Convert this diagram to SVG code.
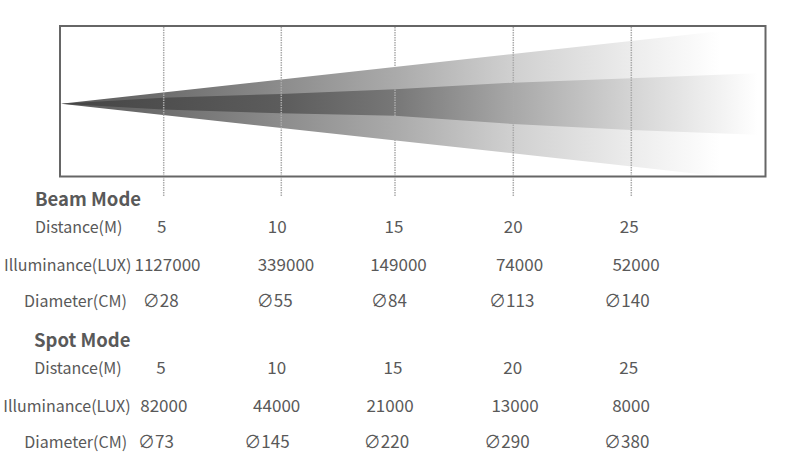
<svg xmlns="http://www.w3.org/2000/svg" width="800" height="476" viewBox="0 0 800 476">
<defs>
<linearGradient id="gOuter" gradientUnits="userSpaceOnUse" x1="61" y1="0" x2="765" y2="0">
<stop offset="0" stop-color="#5a5a5a"/>
<stop offset="0.145" stop-color="#6e6e6e"/>
<stop offset="0.3125" stop-color="#8c8c8c"/>
<stop offset="0.474" stop-color="#aaaaaa"/>
<stop offset="0.642" stop-color="#d0d0d0"/>
<stop offset="0.81" stop-color="#ececec"/>
<stop offset="0.936" stop-color="#ffffff"/>
</linearGradient>
<linearGradient id="gInner" gradientUnits="userSpaceOnUse" x1="61" y1="0" x2="765" y2="0">
<stop offset="0" stop-color="#444444"/>
<stop offset="0.145" stop-color="#4f4f4f"/>
<stop offset="0.3125" stop-color="#5c5c5c"/>
<stop offset="0.474" stop-color="#777777"/>
<stop offset="0.642" stop-color="#a8a8a8"/>
<stop offset="0.81" stop-color="#d4d4d4"/>
<stop offset="0.99" stop-color="#ffffff"/>
</linearGradient>
</defs>
<style>
text { font-family: "Noto Sans CJK SC", "Noto Sans", "Liberation Sans", sans-serif; fill: #595959; font-size: 16px; }
.h { font-weight: bold; font-size: 18.5px; }
.n { text-anchor: middle; font-size: 17px; }
.guide { stroke: #aaaaaa; stroke-width: 1.5; stroke-dasharray: 1.5 1; fill: none; }
</style>
<rect width="800" height="476" fill="#ffffff"/>
<g id="beam">
<polygon points="61,103.7 722,31 722,176.4" fill="url(#gOuter)"/>
<polygon points="61,103.7 163,97.8 281,94 395,89.3 513,82.7 631,78.3 763,73 763,135 631,130 513,124 395,115.7 281,113.3 163,109.5" fill="url(#gInner)"/>
</g>
<g id="frame">
<rect x="60" y="26" width="705.5" height="150.5" fill="none" stroke="#666666" stroke-width="2"/>
</g>
<g id="guides">
<line class="guide" x1="163.7" y1="27" x2="163.7" y2="197"/>
<line class="guide" x1="281.3" y1="27" x2="281.3" y2="197"/>
<line class="guide" x1="395" y1="27" x2="395" y2="197"/>
<line class="guide" x1="513.3" y1="27" x2="513.3" y2="197"/>
<line class="guide" x1="631.3" y1="27" x2="631.3" y2="197"/>
</g>
<g id="beam-mode">
<text class="h" x="35" y="206">Beam Mode</text>
<text x="35" y="233">Distance(M)</text>
<text class="n" x="161.7" y="233">5</text>
<text class="n" x="277.3" y="233">10</text>
<text class="n" x="394" y="233">15</text>
<text class="n" x="513.3" y="233">20</text>
<text class="n" x="629.3" y="233">25</text>
<text x="4" y="271">Illuminance(LUX)</text>
<text class="n" x="167.5" y="271">1127000</text>
<text class="n" x="286" y="271">339000</text>
<text class="n" x="398.5" y="271">149000</text>
<text class="n" x="519.5" y="271">74000</text>
<text class="n" x="636" y="271">52000</text>
<text x="24" y="307">Diameter(CM)</text>
<text class="n" x="160.8" y="307">∅28</text>
<text class="n" x="274.7" y="307">∅55</text>
<text class="n" x="389" y="307">∅84</text>
<text class="n" x="511.7" y="307">∅113</text>
<text class="n" x="627" y="307">∅140</text>
</g>
<g id="spot-mode">
<text class="h" x="34" y="347">Spot Mode</text>
<text x="34.3" y="373.5">Distance(M)</text>
<text class="n" x="161" y="373.5">5</text>
<text class="n" x="276.7" y="373.5">10</text>
<text class="n" x="393" y="373.5">15</text>
<text class="n" x="512.7" y="373.5">20</text>
<text class="n" x="628.7" y="373.5">25</text>
<text x="3.3" y="411.5">Illuminance(LUX)</text>
<text class="n" x="163.8" y="411.5">82000</text>
<text class="n" x="276.7" y="411.5">44000</text>
<text class="n" x="390" y="411.5">21000</text>
<text class="n" x="515" y="411.5">13000</text>
<text class="n" x="631" y="411.5">8000</text>
<text x="24.3" y="447.5">Diameter(CM)</text>
<text class="n" x="156" y="447.5">∅73</text>
<text class="n" x="267" y="447.5">∅145</text>
<text class="n" x="386.5" y="447.5">∅220</text>
<text class="n" x="507" y="447.5">∅290</text>
<text class="n" x="626.7" y="447.5">∅380</text>
</g>
</svg>
